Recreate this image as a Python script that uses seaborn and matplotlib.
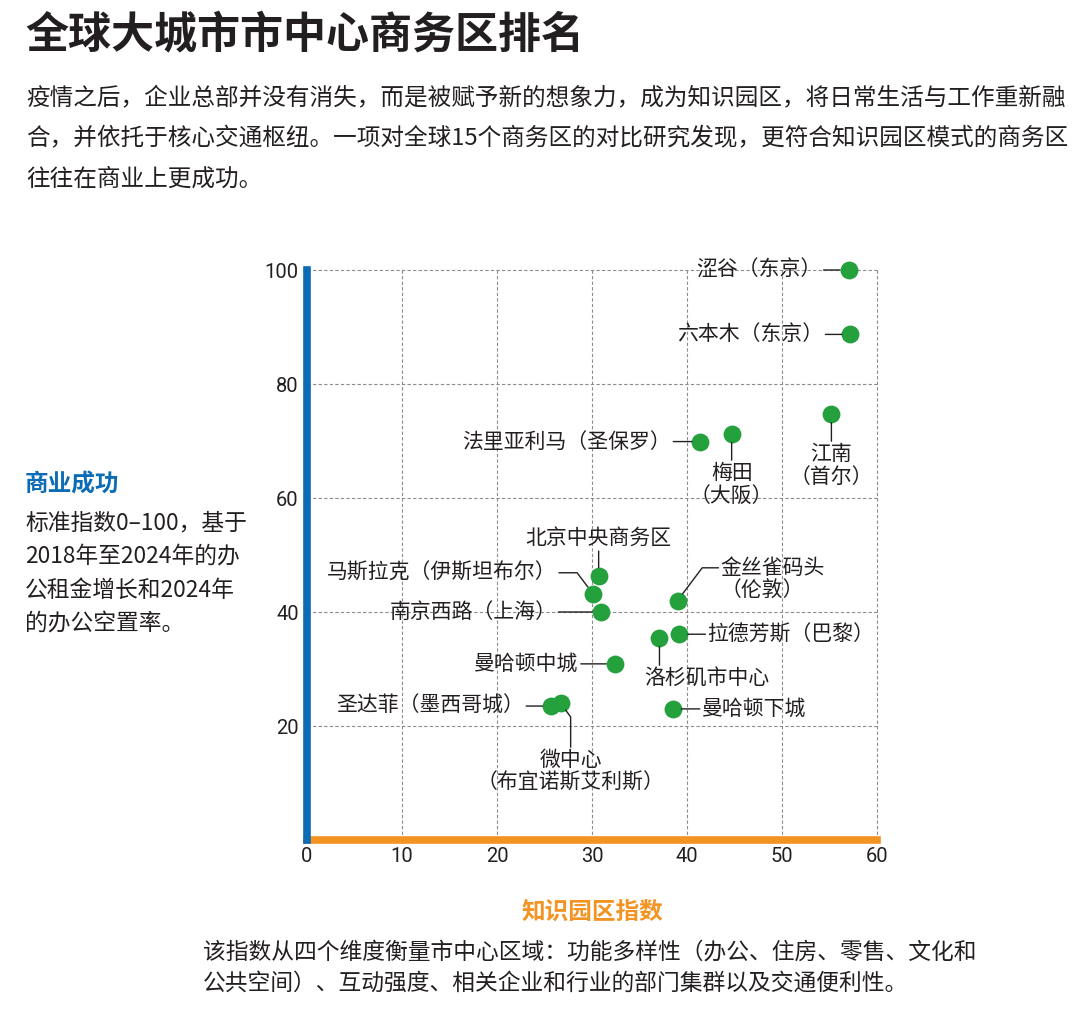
import matplotlib
matplotlib.use("Agg")
import matplotlib.pyplot as plt
import seaborn as sns
import pandas as pd

# ---------------- data ----------------
districts = ["涩谷（东京）", "六本木（东京）", "江南\n（首尔）", "梅田\n（大阪）",
             "法里亚利马（圣保罗）", "北京中央商务区", "马斯拉克（伊斯坦布尔）",
             "南京西路（上海）", "金丝雀码头\n（伦敦）", "拉德芳斯（巴黎）",
             "洛杉矶市中心", "曼哈顿中城", "曼哈顿下城", "圣达菲（墨西哥城）",
             "微中心\n（布宜诺斯艾利斯）"]
knowledge_index = [57.0, 57.2, 55.2, 44.7, 41.4, 30.7, 30.1, 30.9, 39.0, 39.2,
                   37.1, 32.4, 38.5, 25.7, 26.7]
business_success = [100.0, 88.7, 74.7, 71.2, 69.9, 46.3, 43.2, 40.0, 42.0, 36.1,
                    35.4, 30.9, 23.0, 23.5, 24.0]
x_ticks = [0, 10, 20, 30, 40, 50, 60]
y_ticks = [20, 40, 60, 80, 100]

title = "全球大城市市中心商务区排名"
intro_lines = ["疫情之后，企业总部并没有消失，而是被赋予新的想象力，成为知识园区，将日常生活与工作重新融",
               "合，并依托于核心交通枢纽。一项对全球15个商务区的对比研究发现，更符合知识园区模式的商务区",
               "往往在商业上更成功。"]
y_title = "商业成功"
y_desc = ["标准指数0–100，基于", "2018年至2024年的办", "公租金增长和2024年", "的办公空置率。"]
x_title = "知识园区指数"
x_desc = ["该指数从四个维度衡量市中心区域：功能多样性（办公、住房、零售、文化和",
          "公共空间）、互动强度、相关企业和行业的部门集群以及交通便利性。"]

# ---------------- style ----------------
sns.set_theme(style="white")
plt.rcParams['font.family'] = ['Noto Sans CJK SC', 'DejaVu Sans']
DARK = "#231f20"
GREEN = "#24a03c"
BLUE = "#0b6cb5"
ORANGE = "#f39322"
W, H = 1078, 1028

def pt(px):
    return px * 0.72

# label layout: (dx px, dy px [down +], ha, va, relpos, connectionstyle, multialign)
label_layout = {
    "涩谷（东京）": (-27, 0, "right", "center", (1, 0.5), "arc3", "center"),
    "六本木（东京）": (-27, 0, "right", "center", (1, 0.5), "arc3", "center"),
    "江南\n（首尔）": (0, 29, "center", "top", (0.5, 1), "arc3", "center"),
    "梅田\n（大阪）": (0, 28, "center", "top", (0.5, 1), "arc3", "center"),
    "法里亚利马（圣保罗）": (-29, 0, "right", "center", (1, 0.5), "arc3", "center"),
    "北京中央商务区": (0, -27, "center", "bottom", (0.5, 0), "arc3", "center"),
    "马斯拉克（伊斯坦布尔）": (-36, -21, "right", "center", (1, 0.5),
                       "angle,angleA=0,angleB=127,rad=0", "center"),
    "南京西路（上海）": (-44, 0, "right", "center", (1, 0.5), "arc3", "center"),
    "金丝雀码头\n（伦敦）": (43, -44, "left", "top", (0, 0.75),
                       "angle,angleA=0,angleB=53,rad=0", "left"),
    "拉德芳斯（巴黎）": (28, 0, "left", "center", (0, 0.5), "arc3", "center"),
    "洛杉矶市中心": (-15, 29, "left", "top", (0.12, 1), "arc3", "center"),
    "曼哈顿中城": (-36, 0, "right", "center", (1, 0.5), "arc3", "center"),
    "曼哈顿下城": (29, 0, "left", "center", (0, 0.5), "arc3", "center"),
    "圣达菲（墨西哥城）": (-27, 0, "right", "center", (1, 0.5), "arc3", "center"),
    "微中心\n（布宜诺斯艾利斯）": (10, 46, "center", "top", (0.5, 1),
                          "angle,angleA=90,angleB=-54,rad=0", "center"),
}

df = pd.DataFrame({"name": districts, "knowledge": knowledge_index,
                   "success": business_success})

fig = plt.figure(figsize=(W / 100, H / 100), dpi=100)
fig.patch.set_facecolor("white")
ax = fig.add_axes([307 / W, 1 - 840 / H, 570 / W, 570 / H])

sns.scatterplot(data=df, x="knowledge", y="success", color=GREEN, s=165,
                linewidth=0, ax=ax, zorder=4, clip_on=False, legend=False)

ax.set_xlim(0, 60)
ax.set_ylim(0, 100)
ax.set_xticks(x_ticks)
ax.set_yticks(y_ticks)
ax.set_xticklabels([str(v) for v in x_ticks])
ax.set_yticklabels([str(v) for v in y_ticks])
ax.set_xlabel("")
ax.set_ylabel("")
ax.tick_params(length=0, labelsize=14.5, labelcolor=DARK)
ax.tick_params(axis="y", pad=6)
ax.tick_params(axis="x", pad=5)
for lab in ax.get_xticklabels() + ax.get_yticklabels():
    lab.set_family(["Liberation Sans Narrow", "Roboto", "DejaVu Sans"])

ax.grid(True, color="#8c8c8c", lw=0.8, ls=(0, (3, 2)))
for gl in ax.get_xgridlines() + ax.get_ygridlines():
    gl.set_clip_on(False)
ax.set_axisbelow(True)

for s in ["top", "right"]:
    ax.spines[s].set_visible(False)
ax.spines["left"].set_color(BLUE)
ax.spines["left"].set_linewidth(5.5)
ax.spines["left"].set_zorder(5)
ax.spines["bottom"].set_color(ORANGE)
ax.spines["bottom"].set_linewidth(5.5)

for name, xv, yv in zip(districts, knowledge_index, business_success):
    dx, dy, ha, va, rel, cs, malign = label_layout[name]
    ax.annotate(name, xy=(xv, yv), xytext=(pt(dx), -pt(dy)),
                textcoords="offset points", ha=ha, va=va, fontsize=15,
                color=DARK, multialignment=malign, linespacing=1.05,
                annotation_clip=False, zorder=6,
                arrowprops=dict(arrowstyle="-", color=DARK, lw=1.0,
                                shrinkA=pt(2), shrinkB=pt(8.5), relpos=rel,
                                patchA=None, connectionstyle=cs))

# ---------------- texts ----------------
fig.text(25 / W, 1 - 34 / H, title, fontsize=31, fontweight="bold", color=DARK,
         ha="left", va="center")
for i, line in enumerate(intro_lines):
    fig.text(26 / W, 1 - (98 + 40.5 * i) / H, line, fontsize=17, color=DARK,
             ha="left", va="center")

fig.text(25 / W, 1 - 485 / H, y_title, fontsize=17, fontweight="bold", color=BLUE,
         ha="left", va="center")
for i, line in enumerate(y_desc):
    fig.text(25 / W, 1 - (523 + 33.5 * i) / H, line, fontsize=16.4, color=DARK,
             ha="left", va="center")

fig.text(592 / W, 1 - 912 / H, x_title, fontsize=17, fontweight="bold", color=ORANGE,
         ha="center", va="center")
for i, line in enumerate(x_desc):
    fig.text(203 / W, 1 - (952 + 31.5 * i) / H, line, fontsize=16.4, color=DARK,
             ha="left", va="center")

fig.savefig("out.png", dpi=100, facecolor="white")
